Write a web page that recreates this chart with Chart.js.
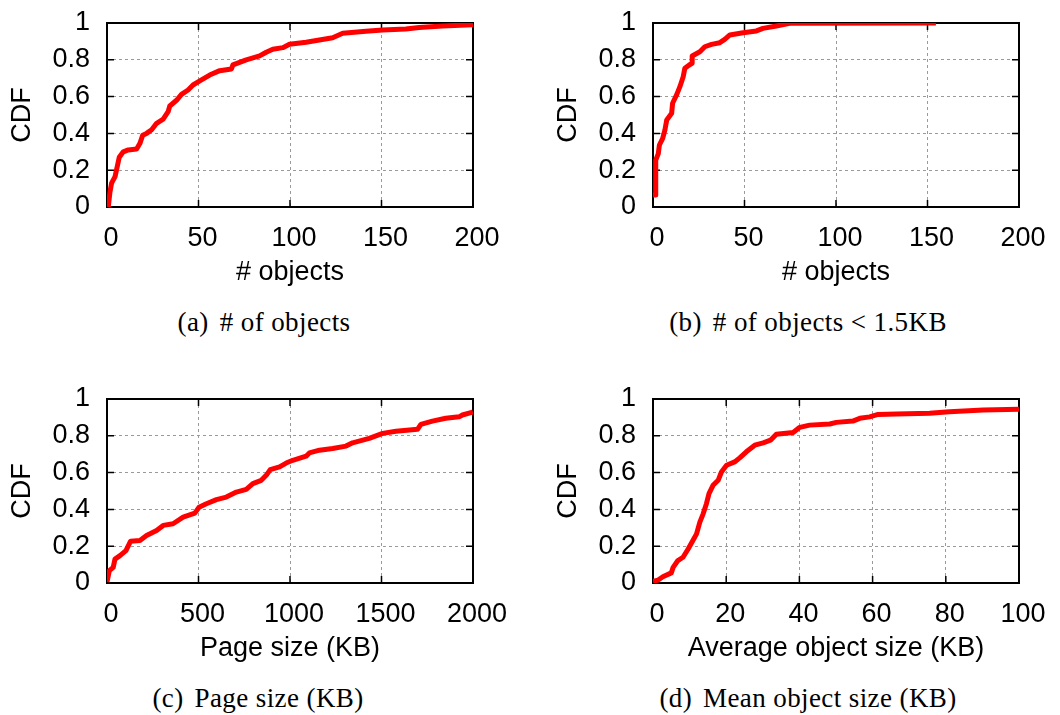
<!DOCTYPE html>
<html>
<head>
<meta charset="utf-8">
<script src="https://cdn.jsdelivr.net/npm/chart.js@4"></script>
<style>
body{margin:0;background:#fff;width:1060px;height:715px;overflow:hidden;position:relative;}
.panel{position:absolute;}
.cap{position:absolute;font-family:"Liberation Serif","Times New Roman",serif;font-size:27px;letter-spacing:0.4px;line-height:30px;color:#000;white-space:nowrap;transform:translateX(-50%);}
.cap span{margin-right:11px;}
</style>
</head>
<body>
<canvas id="cObjetos" class="panel" width="530" height="300" style="left:0;top:0"></canvas>
<canvas id="cPequenos" class="panel" width="530" height="300" style="left:546px;top:0"></canvas>
<canvas id="cPagina" class="panel" width="530" height="300" style="left:0;top:376px"></canvas>
<canvas id="cMedio" class="panel" width="530" height="300" style="left:546px;top:376px"></canvas>

<div class="cap" style="left:264px;top:307px"><span>(a)</span># of objects</div>
<div class="cap" style="left:808px;top:307px"><span>(b)</span># of objects &lt; 1.5KB</div>
<div class="cap" style="left:258px;top:683px"><span>(c)</span>Page size (KB)</div>
<div class="cap" style="left:808px;top:683px"><span>(d)</span>Mean object size (KB)</div>

<script>
// CDF de numero de objetos por pagina
const objX = [0.7,1.6,2.5,4.4,5.6,6.7,8.9,11.6,16.2,18,19.5,21.6,24.4,27.1,30.7,33.4,34.3,38,40.7,44.3,47,50.7,56.1,61.6,68,68.8,76.1,83.4,87,90.6,96.1,99.7,108.8,123.3,128.8,141.5,150.6,163.3,170.6,183.3,200];
const objY = [0,0.08,0.13,0.165,0.22,0.27,0.30,0.31,0.315,0.346,0.39,0.40,0.42,0.455,0.477,0.518,0.549,0.58,0.612,0.636,0.663,0.685,0.717,0.741,0.75,0.772,0.80,0.821,0.841,0.857,0.866,0.884,0.895,0.92,0.944,0.955,0.962,0.967,0.976,0.984,0.99];

// objetos menores a 1.5KB
const smallX = [-0.8,-0.8,1.1,1.5,2.9,3.5,5.3,6.5,7.5,10.2,10.7,12.9,14.7,16.5,17.4,19.8,21.4,21.4,25.6,28.3,32,36.5,39.2,42,49.2,56.5,60.1,67.4,74.7,154.6];
const smallY = [0,0.065,0.065,0.255,0.29,0.337,0.373,0.418,0.473,0.509,0.564,0.609,0.654,0.708,0.754,0.772,0.781,0.821,0.844,0.871,0.884,0.893,0.911,0.935,0.947,0.957,0.971,0.984,0.998,1];

// tamano de pagina (KB)
const pageX = [0,12.7,34,43.6,71,103.6,129,180,216,271,307,361,416,480,503,543,598,652,707,761,797,843,870,892,943,979,1015,1088,1106,1161,1233,1306,1342,1433,1506,1579,1697,1715,1778,1851,1924,1942,1993,2000];
const pageY = [0.005,0.067,0.085,0.13,0.149,0.176,0.227,0.231,0.258,0.285,0.313,0.322,0.358,0.38,0.412,0.431,0.453,0.467,0.494,0.509,0.54,0.558,0.585,0.616,0.631,0.652,0.667,0.689,0.707,0.722,0.731,0.744,0.762,0.786,0.813,0.825,0.835,0.862,0.88,0.895,0.903,0.913,0.927,0.93];

// tamano medio de objeto (KB)
const meanX = [0,1.4,2.7,5,5.5,6.8,8.2,9.6,10.9,11.9,12.8,13.7,14.6,15.3,16.4,17.8,18.7,20.1,22.3,23.7,25.5,27.8,30.1,32.1,33.7,38.3,40.1,42.8,48.3,50.1,54.6,56.5,59.2,61.5,66.5,75.6,81,90.2,100];
const meanY = [0.009,0.016,0.034,0.055,0.085,0.122,0.14,0.185,0.231,0.267,0.331,0.376,0.431,0.486,0.531,0.558,0.603,0.64,0.658,0.68,0.713,0.749,0.762,0.776,0.809,0.818,0.846,0.858,0.864,0.873,0.88,0.895,0.903,0.916,0.918,0.922,0.931,0.94,0.944];

const FUENTE = '"Liberation Sans", Arial, Helvetica, sans-serif';
const TAM = 27;

// marco negro y marcas de tick hacia adentro (estilo gnuplot)
const marco = {
    id: 'marco',
    beforeDatasetsDraw(chart){
        const {ctx, chartArea: a, scales: {x, y}} = chart;
        ctx.save();
        ctx.strokeStyle = '#000';
        ctx.lineWidth = 1.5;
        ctx.beginPath();
        x.ticks.forEach(t => {
            const px = x.getPixelForValue(t.value);
            ctx.moveTo(px, a.bottom); ctx.lineTo(px, a.bottom - 7);
            ctx.moveTo(px, a.top); ctx.lineTo(px, a.top + 7);
        });
        y.ticks.forEach(t => {
            const py = y.getPixelForValue(t.value);
            ctx.moveTo(a.left, py); ctx.lineTo(a.left + 7, py);
            ctx.moveTo(a.right, py); ctx.lineTo(a.right - 7, py);
        });
        ctx.stroke();
        ctx.lineWidth = 2;
        ctx.strokeRect(a.left, a.top, a.right - a.left, a.bottom - a.top);
        ctx.restore();
    }
};

function crearCDF(id, xs, ys, xMax, xStep, xTitulo){
    const puntos = xs.map((v, i) => ({x: v, y: ys[i]}));
    return new Chart(document.getElementById(id), {
        type: 'scatter',
        data: {
            datasets: [{
                data: puntos,
                showLine: true,
                borderColor: '#ff0000',
                borderWidth: 5,
                pointRadius: 0,
                tension: 0,
                borderJoinStyle: 'round'
            }]
        },
        options: {
            responsive: false,
            animation: false,
            devicePixelRatio: 1,
            layout: {padding: {top: 23, right: 57, left: 0, bottom: 0}},
            plugins: {legend: {display: false}, tooltip: {enabled: false}},
            scales: {
                x: {
                    type: 'linear', min: 0, max: xMax,
                    afterFit: s => { s.height = 93; s.paddingLeft = 0; s.paddingRight = 0; },
                    ticks: {stepSize: xStep, autoSkip: false, maxRotation: 0, padding: 15, labelOffset: 4, color: '#000',
                        font: {family: FUENTE, size: TAM}, callback: v => String(v)},
                    grid: {drawTicks: false, color: '#9a9a9a', lineWidth: 1},
                    border: {display: false, dash: [3, 3]},
                    title: {display: true, text: xTitulo, color: '#000', padding: 11,
                        font: {family: FUENTE, size: TAM}}
                },
                y: {
                    min: 0, max: 1,
                    // el espacio del eje lo fija el padding del layout
                    afterFit: s => { s.width = 107; s.paddingTop = 0; s.paddingBottom = 0; },
                    ticks: {stepSize: 0.2, autoSkip: false, padding: 17, color: '#000', font: {family: FUENTE, size: TAM},
                        callback: v => String(Number(v.toFixed(1)))},
                    grid: {drawTicks: false, color: '#9a9a9a', lineWidth: 1},
                    border: {display: false, dash: [3, 3]},
                    title: {display: true, text: 'CDF', color: '#000', padding: 6,
                        font: {family: FUENTE, size: TAM}}
                }
            }
        },
        plugins: [marco]
    });
}

crearCDF('cObjetos', objX, objY, 200, 50, '# objects');
crearCDF('cPequenos', smallX, smallY, 200, 50, '# objects');
crearCDF('cPagina', pageX, pageY, 2000, 500, 'Page size (KB)');
crearCDF('cMedio', meanX, meanY, 100, 20, 'Average object size (KB)');
</script>
</body>
</html>
